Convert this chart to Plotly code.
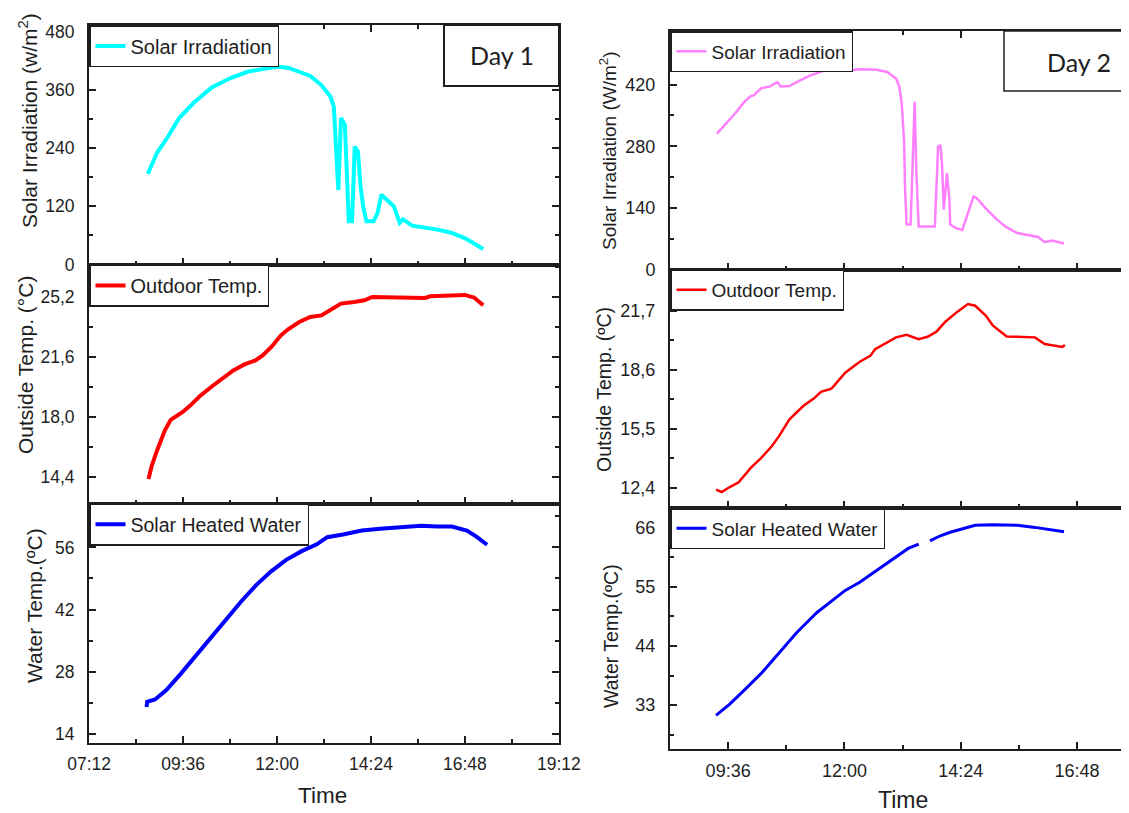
import plotly.graph_objects as go

# The page body has an 8px margin, so the figure is drawn 8px in from the
# top-left corner of the 1129x813 window.
REF_W, REF_H = 1129, 813
OFF = 8
W, H = REF_W - OFF, REF_H - OFF
DATE = "2024-01-01 "

# ---------------- Day 1 data ----------------
d1_irr_time = ["08:42", "08:56", "09:13", "09:30", "09:52", "10:20", "10:48", "11:16", "11:38", "12:01",
               "12:17", "12:34", "12:51", "13:08", "13:22", "13:27", "13:32", "13:34", "13:38", "13:44",
               "13:47", "13:50", "13:55", "13:59", "14:04", "14:08", "14:12", "14:17", "14:28", "14:34",
               "14:40", "14:48", "14:59", "15:08", "15:13", "15:27", "15:44", "16:06", "16:28", "16:50", "17:16"]
d1_irr = [187, 230, 264, 302, 333, 365, 384, 398, 403, 408,
          406, 398, 389, 370, 346, 326, 223, 154, 302, 288,
          189, 89, 89, 243, 233, 161, 120, 89, 89, 106,
          144, 134, 120, 86, 93, 80, 77, 72, 65, 53, 32]

d1_out_time = ["08:43", "08:48", "08:56", "09:08", "09:17", "09:35", "09:47", "10:01", "10:20", "10:37",
               "10:53", "11:10", "11:27", "11:38", "11:52", "12:06", "12:17", "12:34", "12:51", "13:08",
               "13:24", "13:38", "13:58", "14:14", "14:26", "15:10", "15:47", "15:55", "16:40", "16:48",
               "17:02", "17:16"]
d1_out = [14.26, 15.06, 15.97, 17.18, 17.82, 18.28, 18.68, 19.23, 19.83, 20.35,
          20.80, 21.16, 21.40, 21.70, 22.24, 22.91, 23.27, 23.71, 24.01, 24.11,
          24.52, 24.82, 24.92, 25.02, 25.22, 25.16, 25.16, 25.26, 25.30, 25.34,
          25.18, 24.72]

d1_wat_time = ["08:40", "08:41", "08:53", "09:10", "09:33", "09:56", "10:19", "10:42", "11:05", "11:28",
               "11:51", "12:14", "12:37", "13:01", "13:17", "13:41", "14:10", "14:38", "15:07", "15:41",
               "16:05", "16:28", "16:51", "17:05", "17:22"]
d1_wat = [20.0, 21.2, 21.7, 23.8, 27.6, 31.7, 35.9, 40.0, 43.8, 47.5,
          50.6, 53.2, 55.1, 56.7, 58.3, 58.9, 59.8, 60.2, 60.6, 60.9,
          60.7, 60.7, 59.8, 58.5, 56.6]

# ---------------- Day 2 data ----------------
d2_irr_time = ["09:22", "09:34", "09:43", "09:56", "10:04", "10:08", "10:17", "10:28", "10:37", "10:41",
               "10:52", "11:05", "11:18", "11:35", "11:53", "12:05", "12:19", "12:40", "12:53", "13:04",
               "13:08", "13:11", "13:14", "13:15", "13:17", "13:22", "13:24", "13:26", "13:27", "13:29",
               "13:32", "13:52", "13:54", "13:56", "13:59", "14:01", "14:03", "14:05", "14:07", "14:10",
               "14:11", "14:18", "14:26", "14:33", "14:40", "14:44", "14:55", "15:08", "15:19", "15:34",
               "15:51", "16:00", "16:08", "16:17", "16:32"]
d2_irr = [309, 332, 351, 381, 394, 396, 412, 416, 426, 416,
          417, 430, 441, 452, 458, 452, 455, 454, 449, 434,
          415, 377, 287, 189, 102, 102, 226, 324, 381, 226,
          98, 98, 211, 279, 283, 234, 136, 189, 219, 158,
          102, 94, 90, 128, 166, 162, 139, 115, 98, 83,
          77, 74, 62, 66, 59]

d2_out_time = ["09:21", "09:28", "09:38", "09:49", "10:04", "10:17", "10:30", "10:39", "10:52", "11:09",
               "11:22", "11:31", "11:44", "12:01", "12:19", "12:32", "12:38", "12:53", "13:04", "13:17",
               "13:32", "13:43", "13:54", "14:05", "14:20", "14:33", "14:42", "14:55", "15:04", "15:21",
               "15:56", "16:08", "16:22", "16:30", "16:33"]
d2_out = [12.31, 12.19, 12.45, 12.70, 13.45, 13.98, 14.59, 15.12, 16.00, 16.70,
          17.09, 17.44, 17.61, 18.45, 19.02, 19.33, 19.68, 20.03, 20.30, 20.44,
          20.21, 20.33, 20.60, 21.12, 21.65, 22.05, 21.96, 21.44, 20.91, 20.35,
          20.30, 19.95, 19.86, 19.80, 19.90]

d2_wat_time = ["09:21", "09:38", "09:56", "10:17", "10:39", "11:01", "11:26", "11:44", "12:01", "12:19",
               "12:40", "13:02", "13:19", "13:32", None, "13:46", "13:58", "14:11", "14:25", "14:42",
               "15:04", "15:34", "15:56", "16:13", "16:32"]
d2_wat = [31.1, 33.2, 35.8, 38.9, 42.7, 46.5, 50.2, 52.4, 54.3, 55.8,
          58.0, 60.4, 62.1, 62.9, None, 63.5, 64.4, 65.1, 65.7, 66.4,
          66.5, 66.4, 66.0, 65.6, 65.2]

x_tick0 = "07:12"
legend_names = ["Solar Irradiation", "Outdoor Temp.", "Solar Heated Water"]


def ts(lst):
    return [DATE + t if t is not None else None for t in lst]


def px(x):
    return (x - OFF) / W


def py(y):
    return 1 - (y - OFF) / H


FONT = "Liberation Sans, Arial, sans-serif"
INK = "#1e1e1e"

fig = go.Figure()

series = [
    (d1_irr_time, d1_irr, "", "legend", legend_names[0], "#00FFFF", 4),
    (d1_out_time, d1_out, "2", "legend2", legend_names[1], "#FF0000", 4),
    (d1_wat_time, d1_wat, "3", "legend3", legend_names[2], "#0000FF", 4),
    (d2_irr_time, d2_irr, "4", "legend4", legend_names[0], "#FF80FF", 2.5),
    (d2_out_time, d2_out, "5", "legend5", legend_names[1], "#FF0000", 2.5),
    (d2_wat_time, d2_wat, "6", "legend6", legend_names[2], "#0000FF", 3),
]
for t, v, sfx, lg, name, col, lw in series:
    fig.add_trace(go.Scatter(
        x=ts(t), y=v, mode="lines", name=name,
        line=dict(color=col, width=lw), connectgaps=False,
        xaxis="x" + sfx, yaxis="y" + sfx, legend=lg, showlegend=True,
    ))

# ---------------- axes ----------------
left_x = [px(89), px(559)]
right_x = [px(670), 1.0]
left_rows = [(264.5, 25), (503.5, 264.5), (743, 503.5)]
right_rows = [(269.5, 31), (508, 269.5), (749, 508)]

x_range_left = [DATE + "07:11:50", DATE + "19:12:10"]
x_range_right = [DATE + "08:24", DATE + "17:52:26"]

y_specs_left = [
    dict(range=[0, 494], tick0=0, dtick=120, minor_dtick=60, fmt=""),
    dict(range=[12.79, 27.17], tick0=14.4, dtick=3.6, minor_dtick=1.8, fmt=".1f"),
    dict(range=[11.9, 65.9], tick0=14, dtick=14, minor_dtick=7, fmt=""),
]
y_specs_right = [
    dict(range=[0, 542], tick0=0, dtick=140, minor_dtick=70, fmt=""),
    dict(range=[11.35, 23.86], tick0=12.4, dtick=3.1, minor_dtick=1.55, fmt=".1f"),
    dict(range=[24.86, 69.6], tick0=0, dtick=11, minor_dtick=5.5, fmt=""),
]


def common(size):
    return dict(showline=True, linecolor=INK, linewidth=2, ticks="inside", ticklen=7,
                tickwidth=1.5, tickcolor=INK, showgrid=False, zeroline=False, automargin=False,
                tickfont=dict(family=FONT, size=size, color=INK))


layout_axes = {}
for col, (xdom, rows, yspecs, xr, tsize) in enumerate([
        (left_x, left_rows, y_specs_left, x_range_left, 17.5),
        (right_x, right_rows, y_specs_right, x_range_right, 18)]):
    for r in range(3):
        idx = col * 3 + r + 1
        sfx = "" if idx == 1 else str(idx)
        ybot, ytop = rows[r]
        ys = yspecs[r]
        layout_axes["xaxis" + sfx] = dict(
            common(tsize), type="date", domain=xdom, range=xr, anchor="y" + sfx,
            tick0=DATE + x_tick0, dtick=144 * 60 * 1000, tickformat="%H:%M",
            minor=dict(ticks="inside", ticklen=4, tickwidth=1.5, tickcolor=INK,
                       dtick=72 * 60 * 1000, tick0=DATE + x_tick0),
            mirror="ticks" if r == 0 else True,
            showticklabels=(r == 2), ticklabelstandoff=4,
        )
        layout_axes["yaxis" + sfx] = dict(
            common(tsize), domain=[py(ybot), py(ytop)], range=ys["range"], anchor="x" + sfx,
            tick0=ys["tick0"], dtick=ys["dtick"], tickformat=ys["fmt"],
            minor=dict(ticks="inside", ticklen=4, tickwidth=1.5, tickcolor=INK,
                       dtick=ys["minor_dtick"], tick0=ys["tick0"]),
            mirror="ticks", ticklabelstandoff=9,
        )


# ---------------- legends ----------------
def legend_cfg(xpx, ypx, size):
    return dict(x=px(xpx), y=py(ypx), xanchor="left", yanchor="top",
                bgcolor="white", bordercolor=INK, borderwidth=1.5,
                font=dict(family=FONT, size=size, color=INK),
                itemwidth=30, tracegroupgap=0)


legends = {
    "legend": legend_cfg(89, 25, 20),
    "legend2": legend_cfg(89, 264.5, 20),
    "legend3": legend_cfg(89, 503.5, 19.5),
    "legend4": legend_cfg(670, 31, 19),
    "legend5": legend_cfg(670, 269.5, 19),
    "legend6": legend_cfg(670, 508, 19),
}

# ---------------- annotations ----------------
annotations = []


def ann(text, x, y, size, angle=0, family=FONT):
    annotations.append(dict(text=text, x=px(x), y=py(y), xref="paper", yref="paper",
                            showarrow=False, textangle=angle, xanchor="center", yanchor="middle",
                            font=dict(family=family, size=size, color=INK)))


ann("Solar Irradiation (w/m<sup>2</sup>)", 28, 121, 21, -90)
ann("Outside Temp. (°C)", 25, 365, 21, -90)
ann("Water Temp.(ºC)", 34, 606, 21, -90)
ann("Solar Irradiation (W/m<sup>2</sup>)", 608, 151, 19, -90)
ann("Outside Temp. (ºC)", 604, 390, 19.5, -90)
ann("Water Temp.(ºC)", 611, 636, 19.5, -90)
ann("Time", 322, 795, 22.5)
ann("Time", 903, 800, 23)
ann("Day 1", 502, 55, 25, 0, "Lato, Carlito, sans-serif")
ann("Day 2", 1079, 62, 25, 0, "Lato, Carlito, sans-serif")

shapes = [
    dict(type="rect", xref="paper", yref="paper", x0=px(444), x1=px(559), y0=py(86), y1=py(25),
         line=dict(color=INK, width=2), fillcolor="white", layer="above"),
    dict(type="rect", xref="paper", yref="paper", x0=px(1004), x1=px(1145), y0=py(91), y1=py(31),
         line=dict(color=INK, width=1.5), fillcolor="white", layer="above"),
]

fig.update_layout(
    width=W, height=H, margin=dict(l=0, r=0, t=0, b=0, autoexpand=False),
    paper_bgcolor="white", plot_bgcolor="white",
    separators=", ",
    showlegend=True,
    annotations=annotations, shapes=shapes,
    **layout_axes, **legends,
)

fig.write_html("out.html")
